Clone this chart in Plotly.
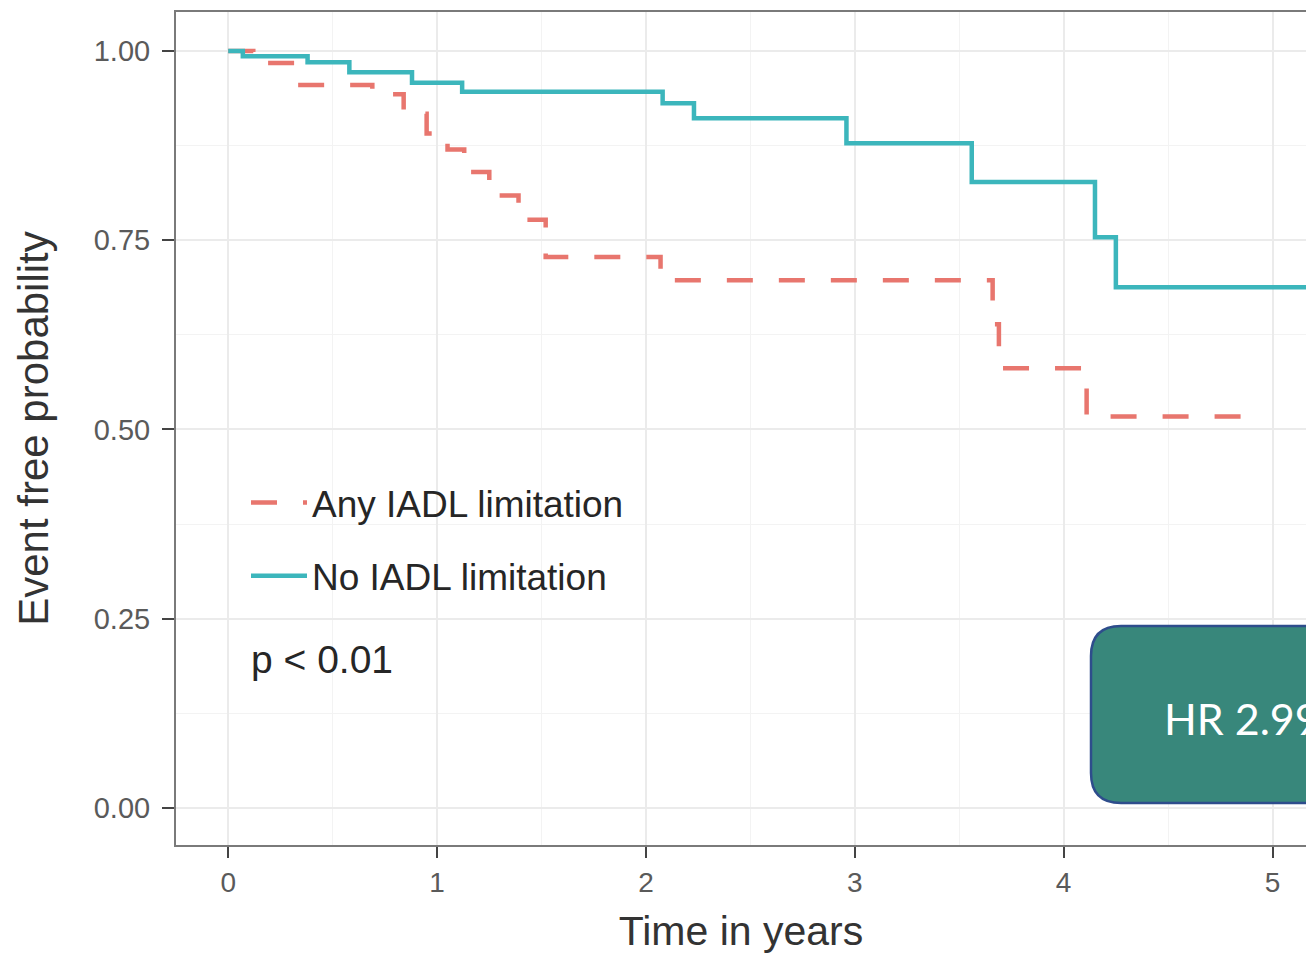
import plotly.graph_objects as go

# ---- data ----
time_any = [0, 0.12, 0.33, 0.69, 0.84, 0.95, 1.05, 1.13, 1.25, 1.39, 1.52, 2.07, 3.66, 3.69, 4.11, 4.93]
surv_any = [1.0, 0.984, 0.955, 0.943, 0.917, 0.891, 0.870, 0.840, 0.809, 0.777, 0.728, 0.697, 0.639, 0.581, 0.517, 0.517]

time_no = [0, 0.07, 0.38, 0.58, 0.88, 1.12, 2.08, 2.23, 2.96, 3.56, 4.15, 4.25, 5.3]
surv_no = [1.0, 0.993, 0.985, 0.972, 0.958, 0.946, 0.931, 0.911, 0.878, 0.827, 0.754, 0.688, 0.688]

x_ticks = [0, 1, 2, 3, 4, 5]
y_ticks = [0.0, 0.25, 0.5, 0.75, 1.0]
y_tick_labels = ["0.00", "0.25", "0.50", "0.75", "1.00"]

name_any = "Any IADL limitation"
name_no = "No IADL limitation"
p_text = "p < 0.01"
hr_text = "HR 2.99"

RED = "#E8766E"
TEAL = "#3CB6BC"

# body margin is removed via post_script, so the figure starts at the page corner
W, H = 1306, 954
ML, MR, MT, MB = 176, 0, 12, 109

def px(xp):
    return (xp - ML) / (W - ML - MR)

def py(yp):
    return (H - MB - yp) / (H - MT - MB)

fig = go.Figure()
fig.add_trace(go.Scatter(
    x=time_any, y=surv_any, mode="lines", line_shape="hv", name=name_any,
    legendgroup="a",
    line=dict(color=RED, width=4.5, dash="26px,26px"),
))
fig.add_trace(go.Scatter(
    x=time_no, y=surv_no, mode="lines", line_shape="hv", name=name_no,
    legendgroup="b",
    line=dict(color=TEAL, width=4.5),
))

font_family = "Liberation Sans, Arial, sans-serif"

fig.update_layout(
    width=W, height=H,
    margin=dict(l=ML, r=MR, t=MT, b=MB),
    paper_bgcolor="white", plot_bgcolor="white",
    font=dict(family=font_family, color="#333333"),
    showlegend=True,
    legend=dict(
        x=px(246), y=py(472), xanchor="left", yanchor="top",
        bgcolor="rgba(0,0,0,0)", font=dict(size=37, color="#262626", family=font_family),
        itemwidth=56, tracegroupgap=22, traceorder="grouped",
    ),
)

fig.update_xaxes(
    range=[-0.25, (1306 - 228) / 208.9],
    tickvals=x_ticks, ticktext=[str(t) for t in x_ticks],
    ticks="outside", ticklen=11, tickwidth=2, tickcolor="#444444",
    tickfont=dict(size=28, color="#5a5a5a"),
    showline=True, linecolor="#7a7a7a", linewidth=2, mirror=True,
    showgrid=True, gridcolor="#EBEBEB", gridwidth=2, zeroline=False,
    minor=dict(dtick=0.5, tick0=0, showgrid=True, gridcolor="#F3F3F3", gridwidth=1, ticklen=0),
    title=dict(text="Time in years", font=dict(size=41, color="#333333"), standoff=22),
)
fig.update_yaxes(
    range=[-0.0489, 1.0515],
    tickvals=y_ticks, ticktext=y_tick_labels,
    ticks="outside", ticklen=12, tickwidth=2, tickcolor="#444444",
    tickfont=dict(size=29, color="#5a5a5a"), ticklabelstandoff=6,
    showline=True, linecolor="#7a7a7a", linewidth=2, mirror=False,
    showgrid=True, gridcolor="#EBEBEB", gridwidth=2, zeroline=False,
    minor=dict(dtick=0.125, tick0=0, showgrid=True, gridcolor="#F3F3F3", gridwidth=1, ticklen=0),
    title=dict(text="Event free probability", font=dict(size=42, color="#333333"), standoff=32),
)

# p-value annotation
fig.add_annotation(
    x=0.1, y=0.196, xref="x", yref="y", text=p_text, showarrow=False,
    xanchor="left", yanchor="middle", font=dict(size=39, color="#262626", family=font_family),
)

# HR rounded box
x0, x1, y0, y1, r = 1091, 1360, 626, 803, 30
path = (
    f"M {px(x0 + r)} {py(y0)} L {px(x1)} {py(y0)} L {px(x1)} {py(y1)} "
    f"L {px(x0 + r)} {py(y1)} Q {px(x0)} {py(y1)} {px(x0)} {py(y1 - r)} "
    f"L {px(x0)} {py(y0 + r)} Q {px(x0)} {py(y0)} {px(x0 + r)} {py(y0)} Z"
)
fig.add_shape(type="path", xref="paper", yref="paper", path=path,
              fillcolor="#38877B", line=dict(color="#2E4D8C", width=2.5), layer="above")
fig.add_annotation(
    x=px(1162), y=py(718), xref="paper", yref="paper", text=hr_text, showarrow=False,
    xanchor="left", yanchor="middle", font=dict(size=43, color="white", family="Lato, Open Sans, sans-serif"),
)

fig.write_html(
    "out.html",
    config={"displayModeBar": False},
    post_script="document.body.style.margin='0px';document.body.style.overflow='hidden';",
)
